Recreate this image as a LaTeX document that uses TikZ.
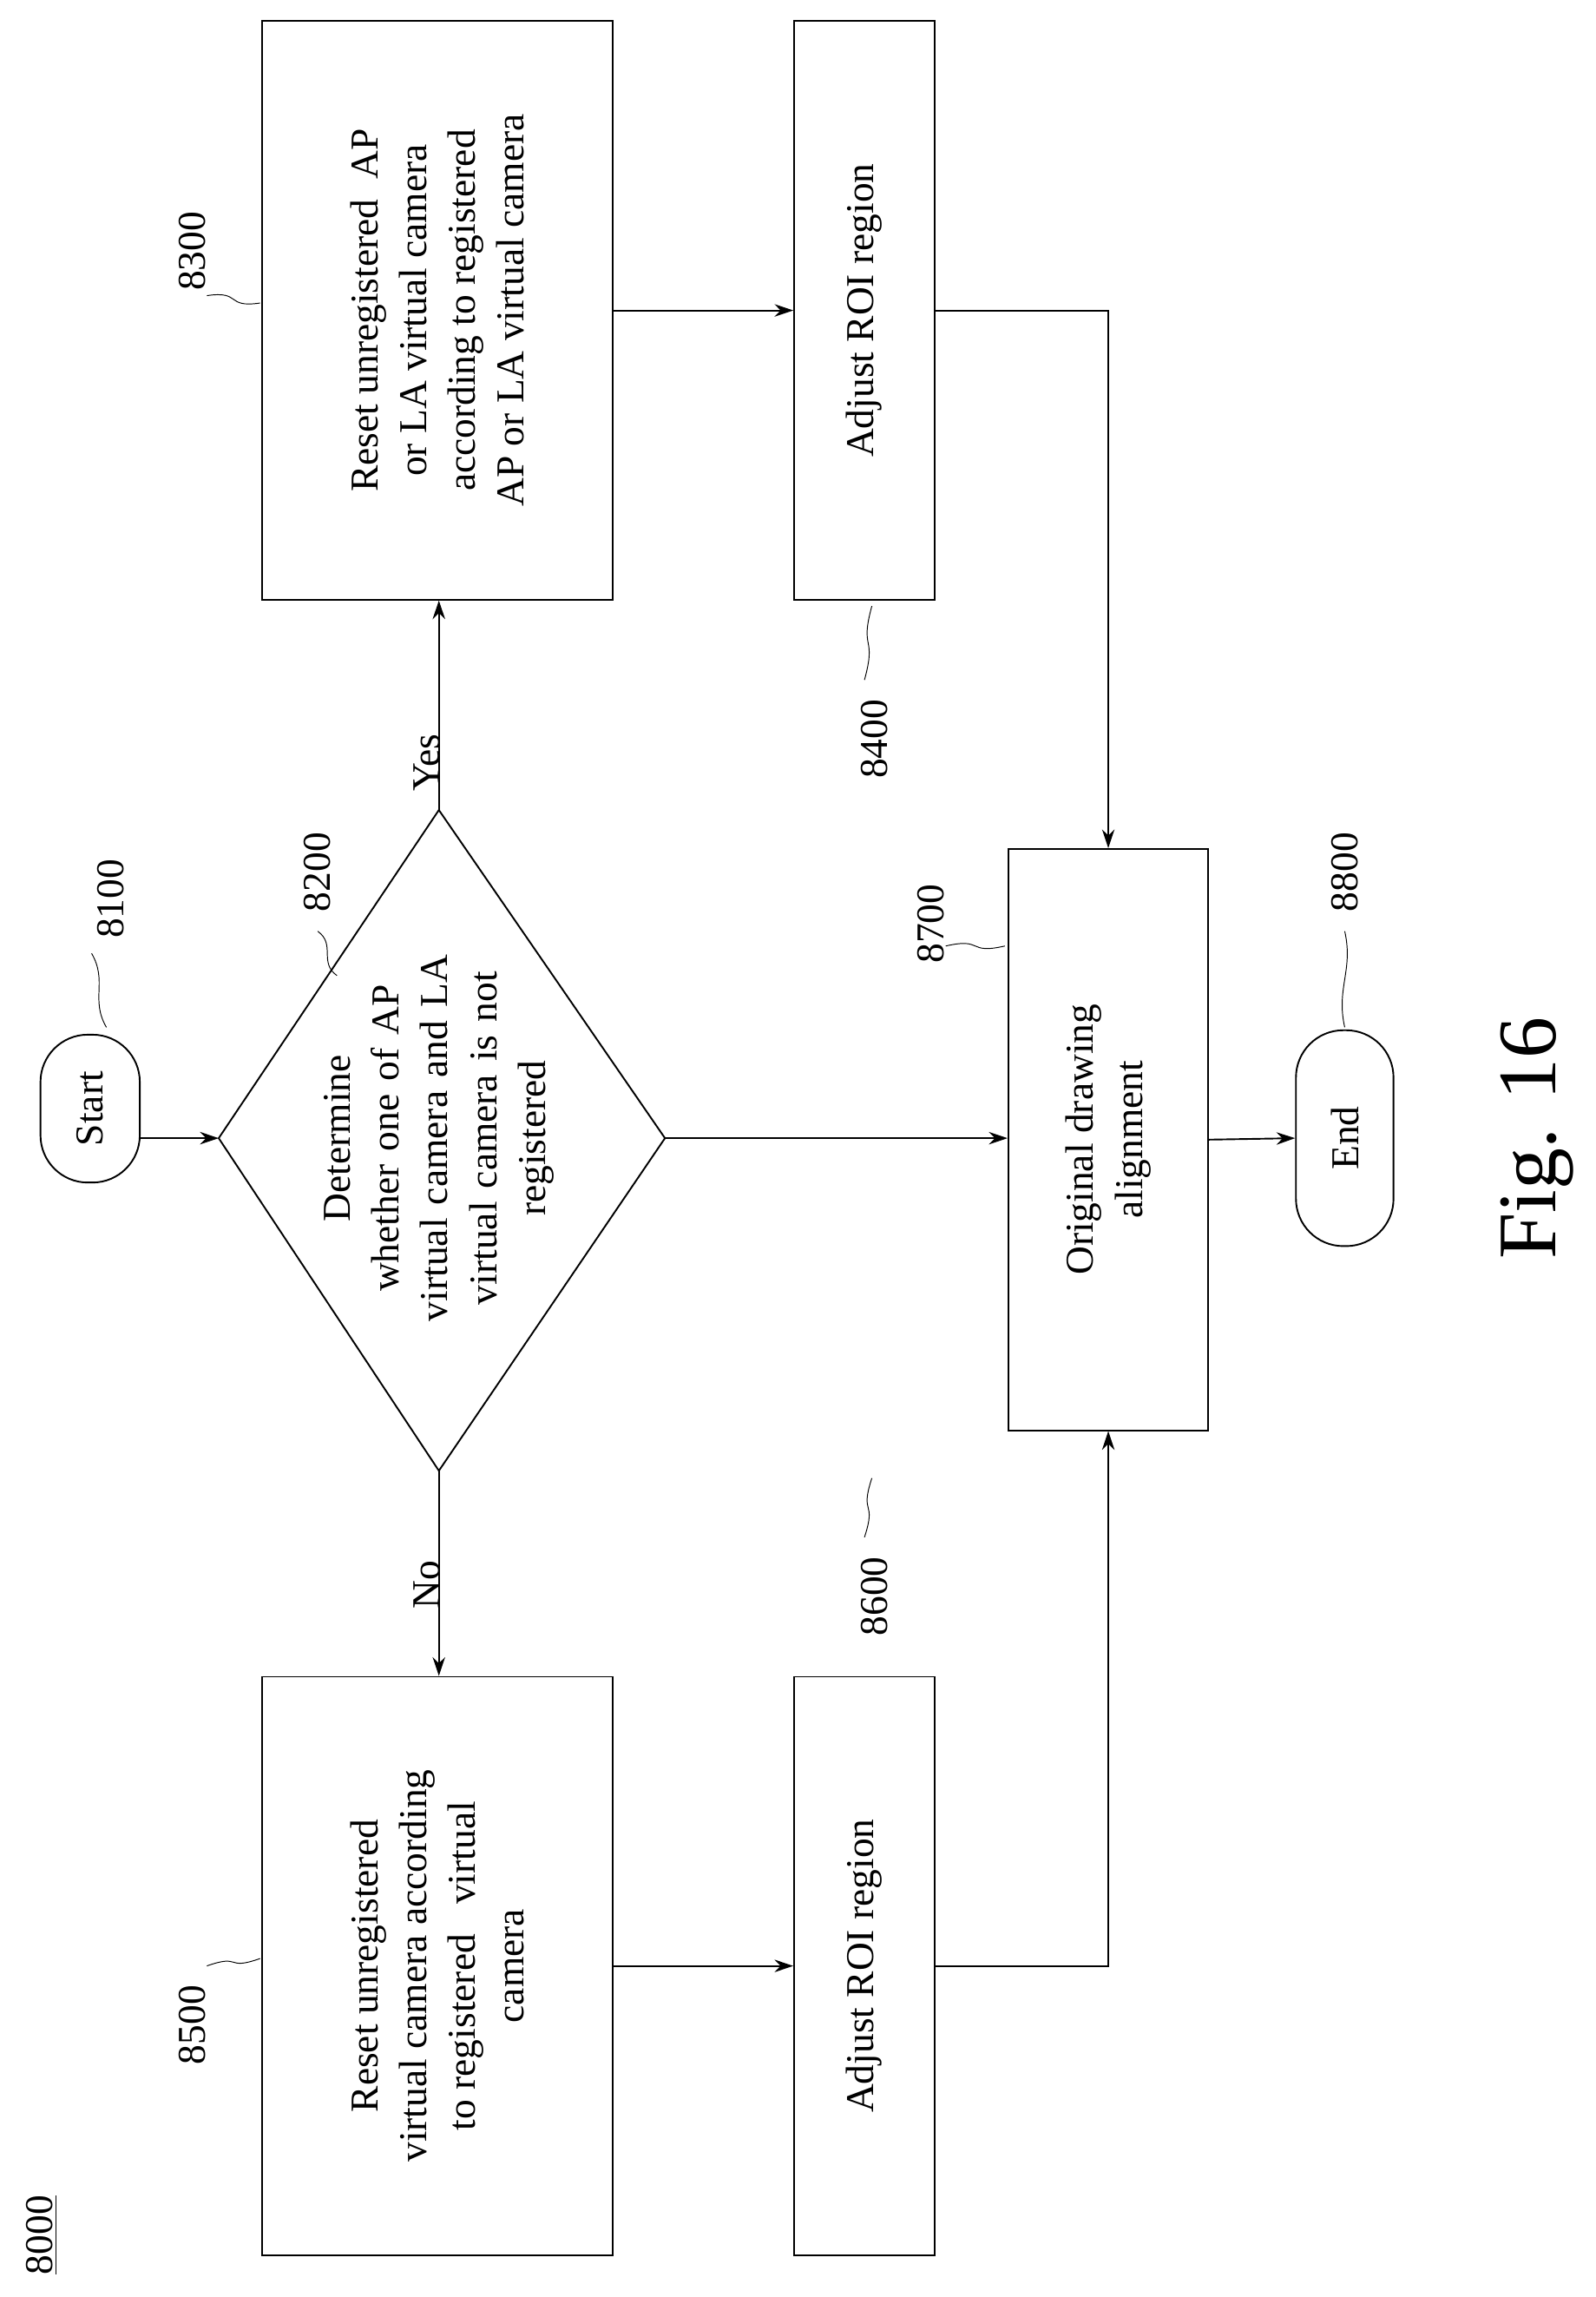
\documentclass[tikz,border=0pt]{standalone}
\usepackage{fontspec}
\setmainfont{Liberation Serif}
\usetikzlibrary{calc}
\usetikzlibrary{arrows.meta}
\tikzset{
  box/.style={draw, thick, rotate=90, align=center, inner sep=2pt},
  term/.style={draw, thick, rotate=90, rounded corners=0.8cm, align=center},
  flow/.style={thick, -{Stealth[length=9pt,width=6pt]}},
  tag/.style={rotate=90},
}
\newcommand{\leader}[2]{\draw[thin] #1 .. controls ($#1!0.5!#2+(6,-6)$) and ($#1!0.5!#2+(-6,6)$) .. #2;}
\begin{document}
\begin{tikzpicture}[x=0.025cm, y=-0.025cm, font=\fontsize{19}{23.5}\selectfont]
    \useasboundingbox (0,0) rectangle (1080,1554);
    % terminals
    \node[term, minimum width=2.5cm, minimum height=1.68cm] (start) at (61,750) {Start};
    \node[term, minimum width=3.65cm, minimum height=1.65cm] (end) at (910,770) {End};
    % decision
    \coordinate (dl) at (148,770);
    \coordinate (dt) at (297,548);
    \coordinate (dr) at (450,770);
    \coordinate (db) at (297,995);
    \draw[thick] (dl) -- (dt) -- (dr) -- (db) -- cycle;
    \node[tag, align=center, text width=6.2cm] (ask) at (297,770)
      {Determine\\whether one of AP\\virtual camera and LA\\virtual camera is not\\registered};
    % steps
    \node[box, minimum width=9.78cm, minimum height=5.93cm] (resetAP) at (296,210)
      {Reset unregistered\ \ AP\\or LA virtual camera\\according to registered\\AP or LA virtual camera};
    \node[box, minimum width=9.78cm, minimum height=2.38cm] (roiA) at (585,210) {Adjust ROI region};
    \node[box, minimum width=9.78cm, minimum height=5.93cm] (resetB) at (296,1330)
      {Reset unregistered\\virtual camera according\\to registered\ \ \ virtual\\camera};
    \node[box, minimum width=9.78cm, minimum height=2.38cm] (roiB) at (585,1330) {Adjust ROI region};
    \node[box, minimum width=9.83cm, minimum height=3.38cm] (align) at (750,771) {Original drawing\\alignment};
    % connectors
    \draw[flow] (start.south |- dl) -- (dl);
    \draw[flow] (dt) -- (resetAP.west -| dt) node[pos=0.4, left=6pt, tag] {Yes};
    \draw[flow] (db) -- (resetB.east -| db) node[pos=0.4, left=6pt, tag] {No};
    \draw[flow] (resetAP.south) -- (roiA.north);
    \draw[flow] (resetB.south) -- (roiB.north);
    \draw[flow] (roiA.south) -| (align.east);
    \draw[flow] (roiB.south) -| (align.west);
    \draw[flow] (dr) -- (align.north |- dr);
    \draw[flow] (align.south) -- (end.north);
    % reference numerals
    \node[tag] (n8100) at (75,608) {8100};
    \node[tag] (n8200) at (215,590) {8200};
    \node[tag] (n8300) at (130,170) {8300};
    \node[tag] (n8400) at (592,500) {8400};
    \node[tag] (n8500) at (130,1370) {8500};
    \node[tag] (n8600) at (592,1080) {8600};
    \node[tag] (n8700) at (630,625) {8700};
    \node[tag] (n8800) at (910,590) {8800};
    \leader{(62,645)}{(72,695)}
    \leader{(215,630)}{(228,660)}
    \leader{(140,200)}{(176,205)}
    \leader{(585,460)}{(590,410)}
    \leader{(140,1330)}{(176,1325)}
    \leader{(585,1040)}{(590,1000)}
    \leader{(640,640)}{(680,640)}
    \leader{(910,630)}{(910,695)}
    \node[tag] (n8000) at (28,1512) {\underline{8000}};
    \node[tag, font=\fontsize{40}{48}\selectfont] (fig) at (1040,770) {Fig. 16};
\end{tikzpicture}
\end{document}
